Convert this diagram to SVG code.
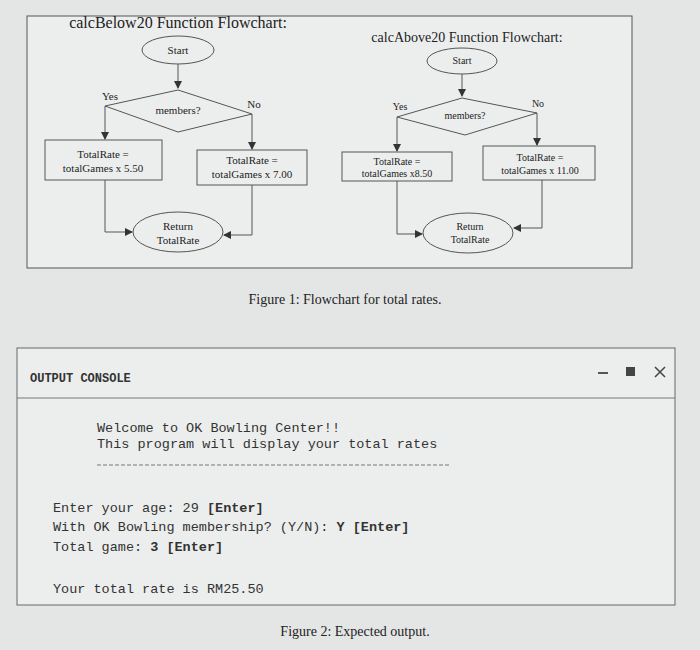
<svg xmlns="http://www.w3.org/2000/svg" width="700" height="650" viewBox="0 0 700 650">
<defs>
<marker id="ah" markerWidth="8" markerHeight="8" refX="7" refY="4" orient="auto" markerUnits="userSpaceOnUse"><path d="M0,0 L8,4 L0,8 z" fill="#333"/></marker>
<style>
.s{fill:#eceeee;stroke:#555;stroke-width:1}
.t{font-family:"Liberation Serif",serif;fill:#222;text-anchor:middle}
.f{font-size:11px}
.g{font-size:10px}
.c{fill:none;stroke:#555;stroke-width:1}
.m{font-family:"Liberation Mono",monospace;font-size:13.5px;fill:#333}
</style>
</defs>
<rect width="700" height="650" fill="#e4e6e6"/>
<rect x="27" y="16" width="605" height="252" fill="#eceeee" stroke="#555"/>
<text class="t" x="178" y="28" font-size="16">calcBelow20 Function Flowchart:</text>
<text class="t" x="467" y="42" font-size="14">calcAbove20 Function Flowchart:</text>
<g id="connectors">
<path class="c" d="M178,64 V88" marker-end="url(#ah)"/>
<path class="c" d="M105,106 V139" marker-end="url(#ah)"/>
<path class="c" d="M252,114 V149" marker-end="url(#ah)"/>
<path class="c" d="M105,180 V232 H132" marker-end="url(#ah)"/>
<path class="c" d="M252,185 V235 H224" marker-end="url(#ah)"/>
<path class="c" d="M462,74 V96" marker-end="url(#ah)"/>
<path class="c" d="M397,117 V151" marker-end="url(#ah)"/>
<path class="c" d="M537,113 V145" marker-end="url(#ah)"/>
<path class="c" d="M397,181 V234 H422" marker-end="url(#ah)"/>
<path class="c" d="M542,180 V228 H514" marker-end="url(#ah)"/>
</g>
<g id="start1"><ellipse class="s" cx="178" cy="50" rx="36" ry="14"/><text class="t f" x="178" y="54">Start</text></g>
<g id="dec1"><polygon class="s" points="178,90 252,114 178,132 105,106"/><text class="t f" x="178" y="114">members?</text><text class="t f" x="110" y="100">Yes</text><text class="t f" x="254" y="108">No</text></g>
<g id="yes1"><rect class="s" x="45" y="140" width="117" height="40"/><text class="t f" x="103" y="158">TotalRate =</text><text class="t f" x="103" y="172">totalGames x 5.50</text></g>
<g id="no1"><rect class="s" x="197" y="150" width="110" height="35"/><text class="t f" x="252" y="164">TotalRate =</text><text class="t f" x="252" y="178">totalGames x 7.00</text></g>
<g id="ret1"><ellipse class="s" cx="178" cy="232" rx="45" ry="20"/><text class="t f" x="178" y="230">Return</text><text class="t f" x="178" y="244">TotalRate</text></g>
<g id="start2"><ellipse class="s" cx="462" cy="61" rx="35" ry="13"/><text class="t g" x="462" y="64">Start</text></g>
<g id="dec2"><polygon class="s" points="462,98 537,113 465,135 397,117"/><text class="t g" x="465" y="119">members?</text><text class="t g" x="400" y="110">Yes</text><text class="t g" x="538" y="107">No</text></g>
<g id="yes2"><rect class="s" x="342" y="152" width="110" height="29"/><text class="t g" x="397" y="165">TotalRate =</text><text class="t g" x="397" y="177">totalGames x8.50</text></g>
<g id="no2"><rect class="s" x="483" y="146" width="112" height="34"/><text class="t g" x="540" y="161">TotalRate =</text><text class="t g" x="540" y="174">totalGames x 11.00</text></g>
<g id="ret2"><ellipse class="s" cx="468" cy="233" rx="45" ry="20"/><text class="t g" x="470" y="230">Return</text><text class="t g" x="470" y="243">TotalRate</text></g>
<text class="t" x="345" y="304" font-size="14">Figure 1: Flowchart for total rates.</text>
<g id="console">
<rect x="17" y="348" width="658" height="257" fill="#eceeee" stroke="#666"/>
<line x1="17" y1="398" x2="675" y2="398" stroke="#777"/>
<text x="30" y="382" font-family="Liberation Mono,monospace" font-size="12" font-weight="bold" fill="#333">OUTPUT CONSOLE</text>
<line x1="598" y1="373" x2="608" y2="373" stroke="#555" stroke-width="2"/>
<rect x="626" y="367" width="9" height="9" fill="#444"/>
<path d="M655,367 L665,377 M665,367 L655,377" stroke="#444" stroke-width="1.5"/>
<text class="m" x="97" y="432">Welcome to OK Bowling Center!!</text>
<text class="m" x="97" y="448">This program will display your total rates</text>
<line x1="97" y1="465" x2="450" y2="465" stroke="#777" stroke-dasharray="4,2"/>
<text class="m" x="53" y="512">Enter your age: 29 <tspan font-weight="bold">[Enter]</tspan></text>
<text class="m" x="53" y="531">With OK Bowling membership? (Y/N): <tspan font-weight="bold">Y [Enter]</tspan></text>
<text class="m" x="53" y="551">Total game: <tspan font-weight="bold">3 [Enter]</tspan></text>
<text class="m" x="53" y="593">Your total rate is RM25.50</text>
</g>
<text class="t" x="355" y="636" font-size="14">Figure 2: Expected output.</text>
</svg>
